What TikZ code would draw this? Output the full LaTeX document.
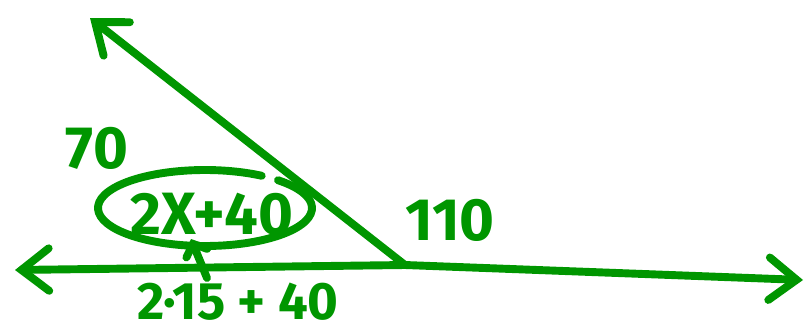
\documentclass[tikz,border=0pt]{standalone}
\usepackage{fontspec}
\setmainfont{Fira Sans}
\usetikzlibrary{arrows.meta}
\definecolor{pen}{RGB}{0,150,0}

\begin{document}
\begin{tikzpicture}[x=0.02cm,y=-0.02cm]
\tikzstyle{every node}+=[inner sep=0pt, text=pen]
\tikzstyle{stroke}=[draw=pen, line width=4.5pt, line cap=round, line join=round]
\tikzstyle{barb}=[-{Straight Barb[length=0.55cm,width=0.85cm,line cap=round]}]
\tikzstyle{bigbarb}=[{Straight Barb[length=0.55cm,width=0.85cm,line cap=round]}-{Straight Barb[length=0.55cm,width=0.85cm,line cap=round]}]
\tikzstyle{hand}=[font=\bfseries\fontsize{34}{34}\selectfont]
\useasboundingbox (0,0) rectangle (807,335);
% points of the lines
\coordinate (vertex) at (405,265);
\coordinate (leftend) at (15,270);
\coordinate (rightend) at (803,280);
\coordinate (rayend) at (90,18);
\coordinate (ringc) at (205,208);
\coordinate (caretfoot) at (207,278);
\coordinate (carettip) at (191,239);
% labels
\node[hand] (seventy) at (97,148) {70};
\node[hand] (expr) at (212,214) {2X+40};
\node[hand] (hundredten) at (450,220) {110};
\node[hand, font=\bfseries\fontsize{30}{30}\selectfont] (subst) at (238,302) {2·15 + 40};
% lines
\draw[stroke,bigbarb] (leftend) -- (vertex) -- (rightend);
\draw[stroke,barb] (vertex) -- (rayend);
% ring round the expression
\draw[stroke] (ringc) ++(-47:107 and 38) arc[start angle=-47, end angle=302, x radius=107, y radius=38];
\draw[stroke,-{Straight Barb[length=0.2cm,width=0.45cm,line cap=round]}] (caretfoot) -- (carettip);
\end{tikzpicture}
\end{document}
